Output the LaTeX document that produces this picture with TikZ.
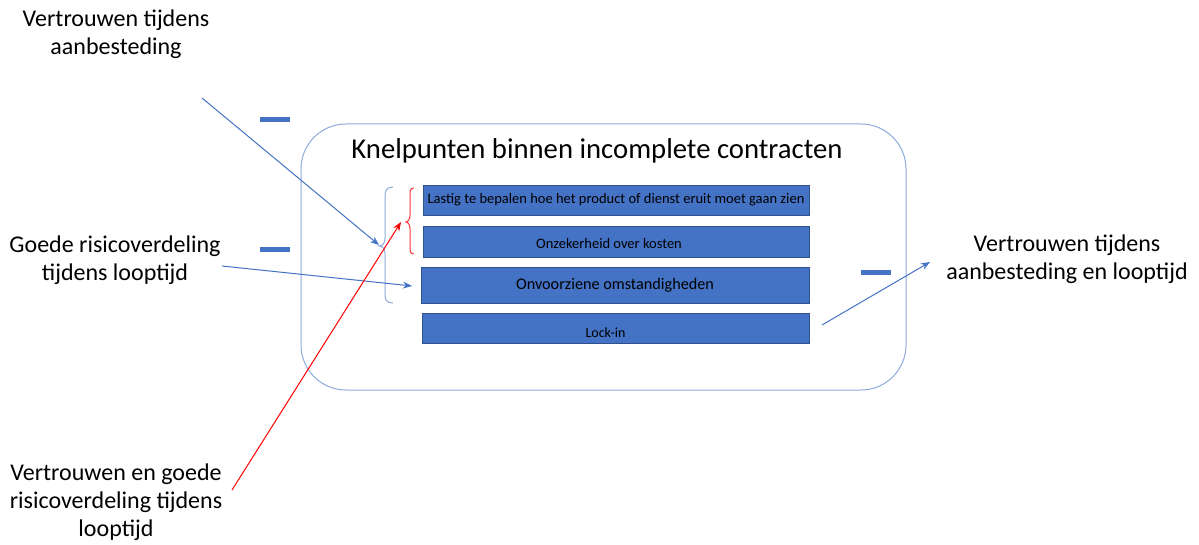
\documentclass[tikz,border=0pt]{standalone}
\usepackage{fontspec}
\setmainfont{Carlito}
\usetikzlibrary{arrows.meta}
\definecolor{obl}{HTML}{4472C4}
\definecolor{obd}{HTML}{2F528F}
\definecolor{lbl}{HTML}{8FAADC}
\tikzset{
  item/.style={draw=obd, line width=0.8pt, fill=obl, minimum width=386pt, minimum height=30pt, inner sep=0pt, text=black},
  itext/.style={inner sep=0pt, text=black},
  lab/.style={align=center, font=\fontsize{24}{28}\selectfont, text=black, inner sep=0pt},
  bar/.style={fill=obl, draw=none, minimum width=30pt, minimum height=5.5pt, inner sep=0pt},
  arr/.style={draw=obl, line width=1pt, -{Stealth[length=9pt,width=7pt]}},
  rarr/.style={draw=red, line width=1pt, -{Stealth[length=9pt,width=7pt]}}
}
\begin{document}
\begin{tikzpicture}[x=1pt,y=-1pt]
\useasboundingbox (0,0) rectangle (1199,545);
% frame
\node[draw=lbl, line width=1pt, rounded corners=45pt, minimum width=605pt, minimum height=266pt, inner sep=0pt] (frame) at (603.5,257) {};
\node[font=\fontsize{28.7}{30}\selectfont, inner sep=0pt] (title) at (597,151) {Knelpunten binnen incomplete contracten};
% items
\node[item] (b1) at (616,200) {};
\node[item, minimum height=31pt] (b2) at (616,241.5) {};
\node[item, minimum width=388pt, minimum height=36pt] (b3) at (615,285) {};
\node[item, minimum width=387pt] (b4) at (615.5,328) {};
\node[itext, font=\fontsize{14.5}{16}\selectfont] (t1) at (616,200) {Lastig te bepalen hoe het product of dienst eruit moet gaan zien};
\node[itext, font=\fontsize{14.5}{16}\selectfont] (t2) at (609,243.5) {Onzekerheid over kosten};
\node[itext, font=\fontsize{16.2}{18}\selectfont] (t3) at (615,285) {Onvoorziene omstandigheden};
\node[itext, font=\fontsize{14}{16}\selectfont] (t4) at (605.5,332.5) {Lock-in};
% bars
\node[bar] (d1) at (275,119.5) {};
\node[bar] (d2) at (275,249.5) {};
\node[bar] (d3) at (876,272.5) {};
% labels
\node[lab] (l1) at (116,34) {Vertrouwen tijdens\\aanbesteding};
\node[lab] (l2) at (115,260) {Goede risicoverdeling\\tijdens looptijd};
\node[lab] (l3) at (1067,259.5) {Vertrouwen tijdens\\aanbesteding en looptijd};
\node[lab] (l4) at (116,502) {Vertrouwen en goede\\risicoverdeling tijdens\\looptijd};
% braces
\draw[lbl, line width=1pt] (393,187) .. controls (387,187) and (385,190) .. (385,196) -- (385,238)
  .. controls (385,243) and (383,246) .. (379,246) .. controls (383,246) and (385,249) .. (385,254)
  -- (385,295) .. controls (385,300) and (387,303) .. (393,303);
\draw[red!80, line width=1pt] (414,188) .. controls (410,188) and (410,191) .. (410,195) -- (410,215)
  .. controls (410,219) and (408,222) .. (406,222) .. controls (408,222) and (410,225) .. (410,229)
  -- (410,247) .. controls (410,251) and (410,254) .. (414,254);
% arrow ends
\coordinate (s1) at (202,98);
\coordinate (e1) at (379,245);
\coordinate (s2) at (222,266);
\coordinate (e2) at (412,286);
\coordinate (s3) at (232,490);
\coordinate (e3) at (401,222);
\coordinate (s4) at (822,325);
\coordinate (e4) at (930,262);
\draw[arr] (s1) -- (e1);
\draw[arr] (s2) -- (e2);
\draw[rarr] (s3) -- (e3);
\draw[arr] (s4) -- (e4);
\end{tikzpicture}
\end{document}
